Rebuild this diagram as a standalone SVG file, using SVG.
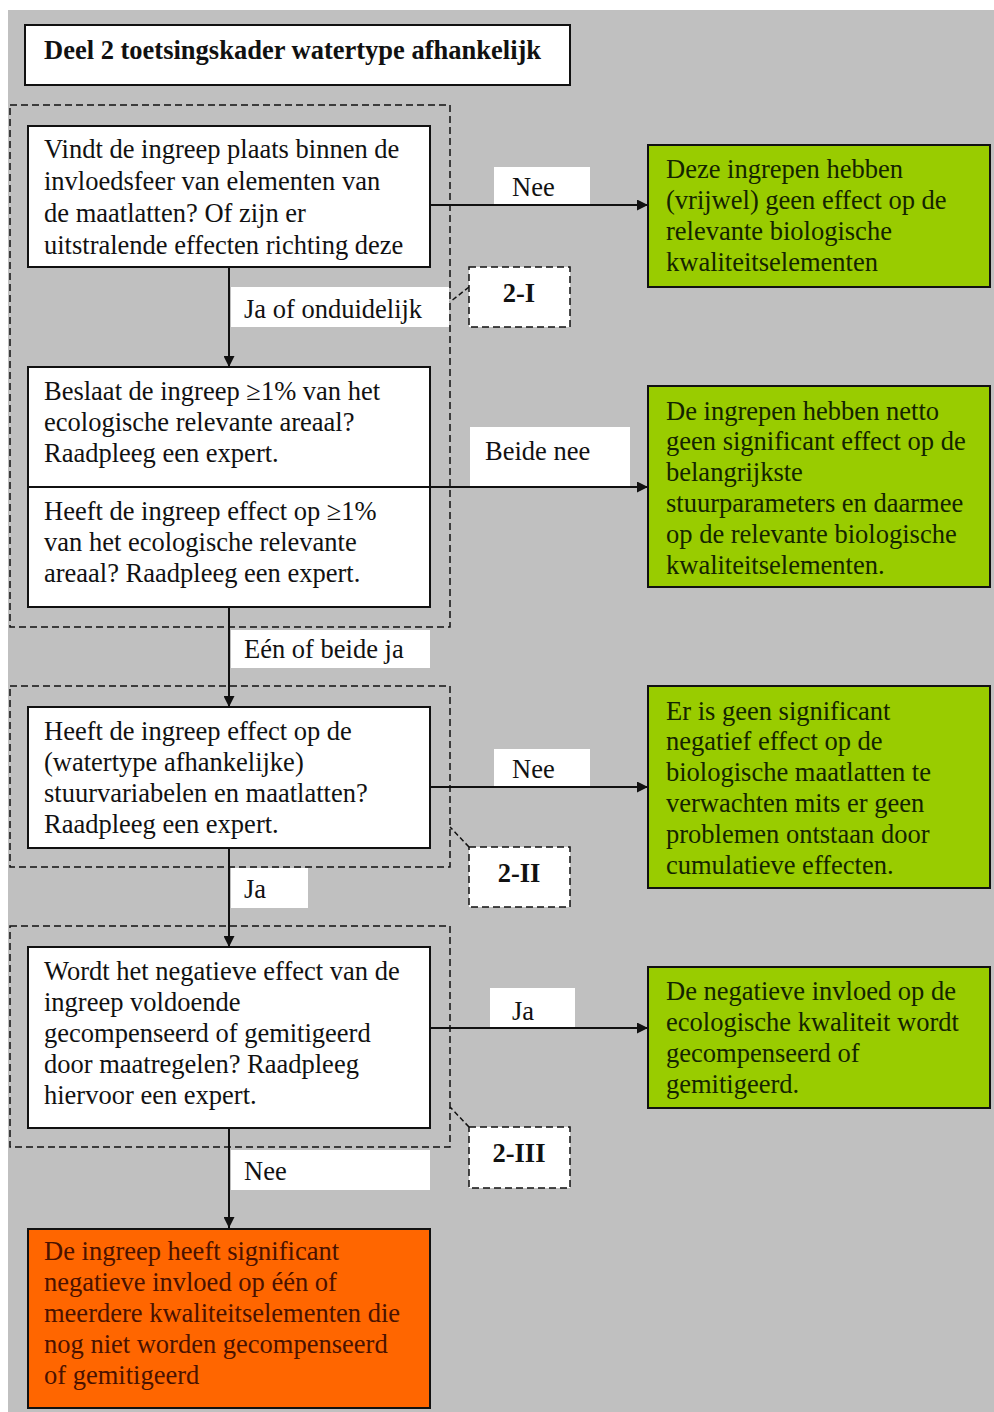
<svg xmlns="http://www.w3.org/2000/svg" width="994" height="1412" viewBox="0 0 994 1412">
<defs>
<marker id="ah" viewBox="0 0 10 10" refX="10" refY="5" markerWidth="11" markerHeight="11" markerUnits="userSpaceOnUse" orient="auto">
<path d="M0,0 L10,5 L0,10 z" fill="#111"/>
</marker>
<style>
text{font-family:'Liberation Serif','Times New Roman',serif;font-size:26.5px;fill:#111}
.box{fill:#fff;stroke:#111;stroke-width:2}
.grn{fill:#99cc00;stroke:#111;stroke-width:2}
.org{fill:#ff6600;stroke:#111;stroke-width:2}
.grp{fill:none;stroke:#111;stroke-width:1.5;stroke-dasharray:7,4}
.tag{fill:#fff;stroke:#111;stroke-width:1.5;stroke-dasharray:7,4}
.lbl{fill:#fff}
.conn{stroke:#111;stroke-width:2;fill:none}
.gt{fill:#142400}
.ot{fill:#4a1200}
.b{font-weight:bold}
</style>
</defs>
<rect x="0" y="0" width="994" height="1412" fill="#fff"/>
<rect x="8" y="10" width="986" height="1402" fill="#c0c0c0"/>

<g id="title">
<rect x="25" y="25" width="545" height="60" class="box"/>
<text x="44" y="59" class="b">Deel 2 toetsingskader watertype afhankelijk</text>
</g>

<g id="group1"><rect x="10" y="105" width="440" height="522" class="grp"/></g>
<g id="group2"><rect x="10" y="686" width="440" height="181" class="grp"/></g>
<g id="group3"><rect x="10" y="926" width="440" height="221" class="grp"/></g>

<g id="connectors">
<line x1="430" y1="205" x2="648" y2="205" class="conn" marker-end="url(#ah)"/>
<line x1="229" y1="267" x2="229" y2="367" class="conn" marker-end="url(#ah)"/>
<line x1="430" y1="487" x2="648" y2="487" class="conn" marker-end="url(#ah)"/>
<line x1="229" y1="607" x2="229" y2="707" class="conn" marker-end="url(#ah)"/>
<line x1="430" y1="787" x2="648" y2="787" class="conn" marker-end="url(#ah)"/>
<line x1="229" y1="848" x2="229" y2="947" class="conn" marker-end="url(#ah)"/>
<line x1="430" y1="1028" x2="648" y2="1028" class="conn" marker-end="url(#ah)"/>
<line x1="229" y1="1128" x2="229" y2="1228" class="conn" marker-end="url(#ah)"/>
<line x1="469" y1="287" x2="450" y2="302" stroke="#111" stroke-width="1.5" stroke-dasharray="5,3"/>
<line x1="469" y1="847" x2="450" y2="827" stroke="#111" stroke-width="1.5" stroke-dasharray="5,3"/>
<line x1="469" y1="1127" x2="450" y2="1107" stroke="#111" stroke-width="1.5" stroke-dasharray="5,3"/>
</g>

<g id="lbl-nee1"><rect x="494" y="167" width="96" height="37" class="lbl"/><text x="512" y="196">Nee</text></g>
<g id="lbl-ja-onduidelijk"><rect x="231" y="287" width="218" height="40" class="lbl"/><text x="244" y="318">Ja of onduidelijk</text></g>
<g id="lbl-beide-nee"><rect x="470" y="427" width="160" height="59" class="lbl"/><text x="485" y="460">Beide nee</text></g>
<g id="lbl-een-of-beide"><rect x="231" y="630" width="199" height="38" class="lbl"/><text x="244" y="658">Eén of beide ja</text></g>
<g id="lbl-nee2"><rect x="494" y="749" width="96" height="37" class="lbl"/><text x="512" y="778">Nee</text></g>
<g id="lbl-ja"><rect x="231" y="868" width="77" height="40" class="lbl"/><text x="244" y="898">Ja</text></g>
<g id="lbl-ja2"><rect x="490" y="988" width="85" height="39" class="lbl"/><text x="512" y="1020">Ja</text></g>
<g id="lbl-nee3"><rect x="231" y="1150" width="199" height="40" class="lbl"/><text x="244" y="1180">Nee</text></g>

<g id="tag-2I"><rect x="469" y="267" width="101" height="60" class="tag"/><text x="519" y="302" text-anchor="middle" class="b">2-I</text></g>
<g id="tag-2II"><rect x="469" y="847" width="101" height="60" class="tag"/><text x="519" y="882" text-anchor="middle" class="b">2-II</text></g>
<g id="tag-2III"><rect x="469" y="1127" width="101" height="61" class="tag"/><text x="519" y="1162" text-anchor="middle" class="b">2-III</text></g>

<g id="q1">
<rect x="28" y="126" width="402" height="141" class="box"/>
<text x="44" y="158">Vindt de ingreep plaats binnen de</text>
<text x="44" y="190">invloedsfeer van elementen van</text>
<text x="44" y="222">de maatlatten? Of zijn er</text>
<text x="44" y="254">uitstralende effecten richting deze</text>
</g>

<g id="q2">
<rect x="28" y="367" width="402" height="240" class="box"/>
<line x1="28" y1="487" x2="430" y2="487" stroke="#111" stroke-width="2"/>
<text x="44" y="400">Beslaat de ingreep ≥1% van het</text>
<text x="44" y="431">ecologische relevante areaal?</text>
<text x="44" y="462">Raadpleeg een expert.</text>
<text x="44" y="520">Heeft de ingreep effect op ≥1%</text>
<text x="44" y="551">van het ecologische relevante</text>
<text x="44" y="582">areaal? Raadpleeg een expert.</text>
</g>

<g id="q3">
<rect x="28" y="707" width="402" height="141" class="box"/>
<text x="44" y="740">Heeft de ingreep effect op de</text>
<text x="44" y="771">(watertype afhankelijke)</text>
<text x="44" y="802">stuurvariabelen en maatlatten?</text>
<text x="44" y="833">Raadpleeg een expert.</text>
</g>

<g id="q4">
<rect x="28" y="947" width="402" height="181" class="box"/>
<text x="44" y="980">Wordt het negatieve effect van de</text>
<text x="44" y="1011">ingreep voldoende</text>
<text x="44" y="1042">gecompenseerd of gemitigeerd</text>
<text x="44" y="1073">door maatregelen? Raadpleeg</text>
<text x="44" y="1104">hiervoor een expert.</text>
</g>

<g id="r1">
<rect x="648" y="145" width="342" height="142" class="grn"/>
<text x="666" y="178" class="gt">Deze ingrepen hebben</text>
<text x="666" y="209" class="gt">(vrijwel) geen effect op de</text>
<text x="666" y="240" class="gt">relevante biologische</text>
<text x="666" y="271" class="gt">kwaliteitselementen</text>
</g>

<g id="r2">
<rect x="648" y="386" width="342" height="201" class="grn"/>
<text x="666" y="420" class="gt">De ingrepen hebben netto</text>
<text x="666" y="450" class="gt">geen significant effect op de</text>
<text x="666" y="481" class="gt">belangrijkste</text>
<text x="666" y="512" class="gt">stuurparameters en daarmee</text>
<text x="666" y="543" class="gt">op de relevante biologische</text>
<text x="666" y="574" class="gt">kwaliteitselementen.</text>
</g>

<g id="r3">
<rect x="648" y="686" width="342" height="202" class="grn"/>
<text x="666" y="720" class="gt">Er is geen significant</text>
<text x="666" y="750" class="gt">negatief effect op de</text>
<text x="666" y="781" class="gt">biologische maatlatten te</text>
<text x="666" y="812" class="gt">verwachten mits er geen</text>
<text x="666" y="843" class="gt">problemen ontstaan door</text>
<text x="666" y="874" class="gt">cumulatieve effecten.</text>
</g>

<g id="r4">
<rect x="648" y="967" width="342" height="141" class="grn"/>
<text x="666" y="1000" class="gt">De negatieve invloed op de</text>
<text x="666" y="1031" class="gt">ecologische kwaliteit wordt</text>
<text x="666" y="1062" class="gt">gecompenseerd of</text>
<text x="666" y="1093" class="gt">gemitigeerd.</text>
</g>

<g id="r5">
<rect x="28" y="1229" width="402" height="179" class="org"/>
<text x="44" y="1260" class="ot">De ingreep heeft significant</text>
<text x="44" y="1291" class="ot">negatieve invloed op één of</text>
<text x="44" y="1322" class="ot">meerdere kwaliteitselementen die</text>
<text x="44" y="1353" class="ot">nog niet worden gecompenseerd</text>
<text x="44" y="1384" class="ot">of gemitigeerd</text>
</g>
</svg>
